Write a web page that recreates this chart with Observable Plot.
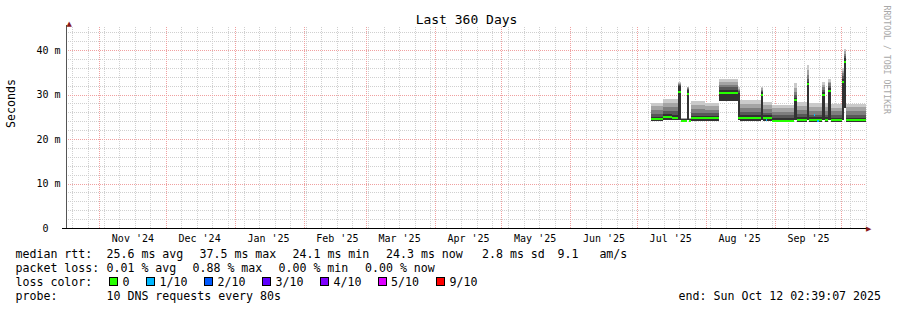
<!DOCTYPE html>
<html><head><meta charset="utf-8">
<script src="https://cdn.jsdelivr.net/npm/d3@7"></script>
<script src="https://cdn.jsdelivr.net/npm/@observablehq/plot@0.6"></script>
<style>
body{margin:0;background:#fff;}
#wrap{position:relative;width:897px;height:310px;overflow:hidden;font-family:"DejaVu Sans Mono",monospace;color:#000;background:#fff;}
#chart{position:absolute;left:0;top:0;}
.leg{position:absolute;font-size:11.6px;line-height:14px;white-space:pre;}
.box{position:absolute;width:7px;height:7px;border:1px solid #000;}
svg text{white-space:pre;}
</style></head>
<body><div id="wrap"><div id="chart"></div><div id="legend"></div></div>
<script>
// ---------- data ----------
const titleText = "Last 360 Days";
const yAxisLabel = "Seconds";
const sideText = "RRDTOOL / TOBI OETIKER";
const endTime = "2025-10-12T02:39:07Z";
const spanDays = 360;
const yTop = 45.2;
const yMajor = [0, 10, 20, 30, 40];
const yTickLabels = ["0\u00a0\u00a0", "10 m", "20 m", "30 m", "40 m"];
const yMinor = [2,4,6,8,12,14,16,18,22,24,26,28,32,34,36,38,42,44];
const monthStarts = ["2024-11-01","2024-12-01","2025-01-01","2025-02-01","2025-03-01","2025-04-01","2025-05-01","2025-06-01","2025-07-01","2025-08-01","2025-09-01","2025-10-01"];
const monthLabelDates = ["2024-11-16","2024-12-16","2025-01-16","2025-02-16","2025-03-16","2025-04-16","2025-05-16","2025-06-16","2025-07-16","2025-08-16","2025-09-16"];
const monthLabels = ["Nov '24","Dec '24","Jan '25","Feb '25","Mar '25","Apr '25","May '25","Jun '25","Jul '25","Aug '25","Sep '25"];

// smoke segments: boundaries (n+1) and per-segment values in ms
const segBounds = ["2025-07-07T14:00Z","2025-07-12T18:00Z","2025-07-16T19:00Z","2025-07-19T12:00Z","2025-07-20T20:00Z","2025-07-23T13:00Z","2025-07-24T11:00Z","2025-07-25T14:00Z","2025-07-31T16:00Z","2025-08-06T19:00Z","2025-08-07T04:00Z","2025-08-15T12:00Z","2025-08-16T10:00Z","2025-08-25T20:00Z","2025-08-26T18:00Z","2025-08-30T19:00Z","2025-09-09T17:00Z","2025-09-11T01:00Z","2025-09-15T13:00Z","2025-09-16T11:00Z","2025-09-22T07:00Z","2025-09-23T21:00Z","2025-09-25T05:00Z","2025-09-26T08:00Z","2025-10-01T07:00Z","2025-10-02T05:00Z","2025-10-03T08:00Z","2025-10-12T02:39:07Z"];
const smokeLo  = [24.1,24.3,24.2,24.2,24.0,24.2,24.0,24.1,24.1,24.2,28.5,24.2,24.1,24.2,24.1,23.8,24.2,23.9,24.2,23.9,24.2,23.9,24.2,23.9,24.2,27.0,23.9];
const smokeP6  = [25.0,25.6,25.5,31.9,24.4,31.0,24.4,25.2,25.2,30.0,31.0,30.4,25.3,30.5,25.3,24.8,29.3,25.0,32.8,24.9,30.5,24.9,31.4,24.8,33.6,38.2,24.8];
const smokeP7  = [25.6,26.3,26.2,32.1,24.5,31.2,24.5,25.8,25.8,30.6,31.6,30.7,26.0,30.8,25.9,25.3,29.9,25.6,33.6,25.4,31.0,25.4,32.0,25.3,34.2,38.7,25.3];
const smokeP8  = [26.5,27.3,27.2,32.3,24.6,31.4,24.6,26.8,26.6,31.2,32.2,31.0,27.0,31.1,26.8,26.1,30.6,26.5,34.5,26.3,31.6,26.3,32.5,26.2,34.8,39.2,26.2];
const smokeP9  = [27.4,28.2,28.1,32.5,24.7,31.6,24.7,27.7,27.4,31.8,32.8,31.3,27.9,31.4,27.6,26.9,31.5,27.4,35.5,27.1,32.2,27.1,32.9,27.0,35.4,39.7,27.1];
const smokeP10 = [28.1,29.0,29.0,32.8,24.8,31.8,24.8,28.6,28.2,32.3,33.4,31.6,28.8,31.8,28.4,27.7,32.6,28.3,36.6,28.0,32.8,28.0,33.4,27.9,36.0,40.2,27.9];
const medianRtt = [24.6,25.1,24.9,30.8,24.2,30.3,24.2,24.8,24.9,30.3,30.5,24.8,24.9,30.1,24.9,24.2,29.0,24.4,32.4,24.4,30.0,24.4,31.0,24.3,33.0,37.5,24.3];

// median points drawn with the 1/10 loss colour
const lossPtStart = ["2025-08-28T06:00Z","2025-09-18T12:00Z","2025-09-20T06:00Z"];
const lossPtEnd   = ["2025-08-28T18:00Z","2025-09-19T00:00Z","2025-09-20T18:00Z"];
const lossPtValue = [24.3, 25.6, 24.2];

// legend
const rttLabel = "median rtt:";
const rttStats = ["25.6 ms avg","37.5 ms max","24.1 ms min","24.3 ms now","2.8 ms sd","9.1   am/s"];
const lossLabel = "packet loss:";
const lossStats = ["0.01 % avg","0.88 % max","0.00 % min","0.00 % now"];
const colorLabel = "loss color:";
const lossLabels = ["0","1/10","2/10","3/10","4/10","5/10","9/10"];
const lossColors = ["#26ff00","#00b8ff","#0059ff","#5e00ff","#7e00ff","#dd00ff","#ff0000"];
const probeLabel = "probe:";
const probeText = "10 DNS requests every 80s";
const endText = "end: Sun Oct 12 02:39:07 2025";

// ---------- build ----------
const tEnd = new Date(endTime);
const tStart = new Date(+tEnd - spanDays * 864e5);
const segments = medianRtt.map((m, i) => ({
  start: new Date(segBounds[i]), end: new Date(segBounds[i + 1]),
  lo: smokeLo[i], p6: smokeP6[i], p7: smokeP7[i], p8: smokeP8[i], p9: smokeP9[i], p10: smokeP10[i], med: m
}));
const lossPts = lossPtValue.map((v, i) => ({start: new Date(lossPtStart[i]), end: new Date(lossPtEnd[i]), v}));
const weeks = d3.utcSunday.range(tStart, tEnd);
const months = monthStarts.map(d => new Date(d));
const labelDates = monthLabelDates.map(d => new Date(d));
const smokeLayers = [["p10", "#cacaca"], ["p9", "#a4a4a4"], ["p8", "#7e7e7e"], ["p7", "#585858"], ["p6", "#323232"]];

const minorGrid = "#d0d0d0", majorGrid = "#f0a0a0", arrowColor = "#8b1a1a";
const crisp = {shapeRendering: "crispEdges"};

const chart = Plot.plot({
  width: 897, height: 245,
  marginLeft: 66, marginRight: 31, marginTop: 27, marginBottom: 17,
  x: {type: "utc", domain: [tStart, tEnd], axis: null},
  y: {domain: [0, yTop], axis: null},
  style: {fontFamily: "DejaVu Sans Mono", fontSize: "10px", color: "#000", background: "none", overflow: "visible"},
  marks: [
    Plot.ruleX(weeks, {x: d => d, stroke: minorGrid, strokeDasharray: "1,1", ...crisp}),
    Plot.ruleY(yMinor, {y: d => d, stroke: minorGrid, strokeDasharray: "1,1", ...crisp}),
    Plot.ruleX(months, {x: d => d, stroke: majorGrid, strokeDasharray: "1,1", ...crisp}),
    Plot.ruleY(yMajor.filter(v => v > 0), {y: d => d, stroke: majorGrid, strokeDasharray: "1,1", ...crisp}),
    ...smokeLayers.map(([k, c]) => Plot.rect(segments, {x1: "start", x2: "end", y1: "lo", y2: k, fill: c, ...crisp})),
    Plot.ruleY(segments, {x1: "start", x2: "end", y: "med", stroke: lossColors[0], strokeWidth: 2, ...crisp}),
    Plot.ruleY(lossPts, {x1: "start", x2: "end", y: "v", stroke: lossColors[1], strokeWidth: 2, ...crisp}),
    // axes
    Plot.ruleX([tStart], {x: d => d, stroke: "#555", insetTop: -2, insetBottom: -1, ...crisp}),
    Plot.ruleY([0], {y: d => d, stroke: "#000", insetLeft: -4, insetRight: -2, ...crisp}),
    Plot.text(["\u25B2"], {text: d => d, frameAnchor: "top-left", lineAnchor: "middle", dy: -4, fontSize: 7, fill: arrowColor, fontFamily: "DejaVu Sans"}),
    Plot.text(["\u25B6"], {text: d => d, frameAnchor: "bottom-right", lineAnchor: "middle", dx: 5, fontSize: 7, fill: arrowColor, fontFamily: "DejaVu Sans"}),
    Plot.text(yMajor, {y: d => d, text: (d, i) => yTickLabels[i], frameAnchor: "left", lineAnchor: "middle", dx: -6, textAnchor: "end"}),
    Plot.text(labelDates, {x: d => d, text: (d, i) => monthLabels[i], frameAnchor: "bottom", lineAnchor: "middle", dy: 10}),
    Plot.text([yAxisLabel], {text: d => d, frameAnchor: "left", lineAnchor: "middle", dx: -55, rotate: -90, fontSize: 11.6}),
    Plot.text([titleText], {text: d => d, frameAnchor: "top", lineAnchor: "middle", dy: -7.5, fontSize: 13}),
    Plot.text([sideText], {text: d => d, frameAnchor: "top-right", lineAnchor: "middle", dx: 20.5, dy: -22, rotate: 90, textAnchor: "start", fontSize: 8.2, fill: "#a8a8a8"})
  ]
});
document.getElementById("chart").appendChild(chart);

// ---------- legend (HTML) ----------
const legend = document.getElementById("legend");
const lineTop = [247, 261, 275, 289];
function put(text, left, top) {
  const s = document.createElement("span");
  s.className = "leg"; s.textContent = text;
  s.style.left = left + "px"; s.style.top = top + "px";
  legend.appendChild(s); return s;
}
const col0 = 15.5;
put(rttLabel, col0, lineTop[0]);
[106.5, 199.5, 292.5, 386, 482, 557.5].forEach((x, i) => put(rttStats[i], x, lineTop[0]));
put(lossLabel, col0, lineTop[1]);
[106.5, 192.5, 278.5, 365].forEach((x, i) => put(lossStats[i], x, lineTop[1]));
put(colorLabel, col0, lineTop[2]);
const boxX = [108.5, 145.5, 203.5, 261.5, 319.5, 377.5, 435.5];
const labX = [122.5, 159.5, 217.5, 275.5, 333.5, 391, 449.5];
lossLabels.forEach((t, i) => {
  const b = document.createElement("div");
  b.className = "box"; b.style.background = lossColors[i];
  b.style.left = boxX[i] + "px"; b.style.top = "277px";
  legend.appendChild(b);
  put(t, labX[i], lineTop[2]);
});
put(probeLabel, col0, lineTop[3]);
put(probeText, 106.5, lineTop[3]);
const e = put(endText, 0, lineTop[3]); e.style.left = ""; e.style.right = "16px";
</script>
</body></html>
